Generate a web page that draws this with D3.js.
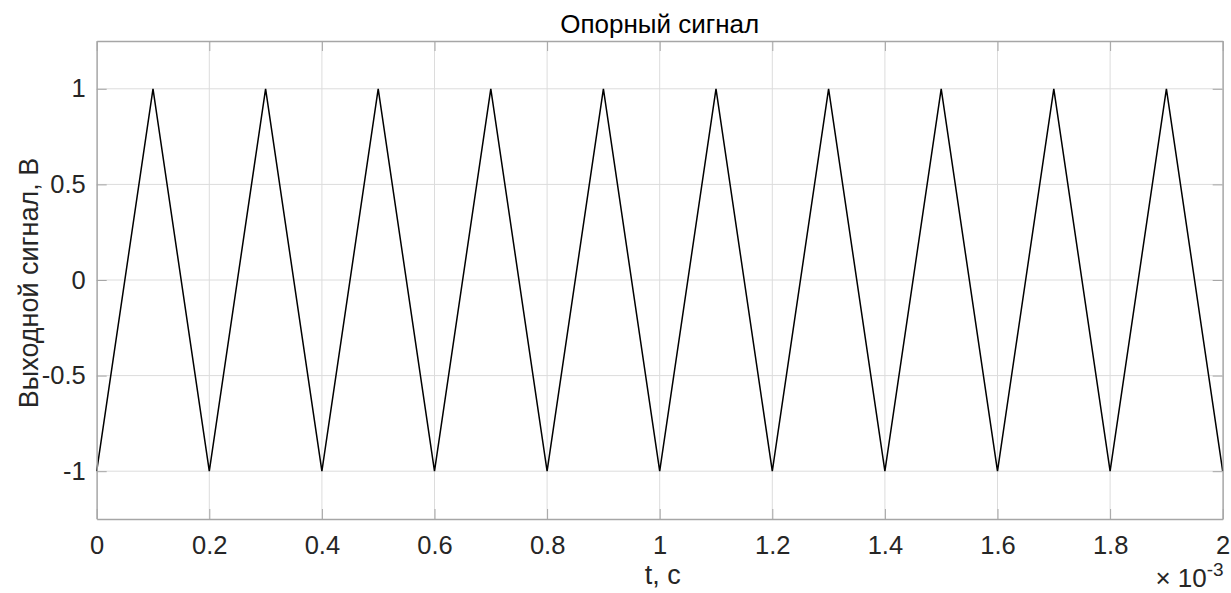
<!DOCTYPE html>
<html>
<head>
<meta charset="utf-8">
<script src="https://cdn.jsdelivr.net/npm/d3@7"></script>
<style>
  body { margin: 0; background: #fff; }
  text { font-family: "Liberation Sans", Arial, sans-serif; }
</style>
</head>
<body>
<div id="vizHolder"></div>
<script>
// vertices of the reference triangle wave (time in units of 1e-3 s)
var tValues = [0, 0.1, 0.2, 0.3, 0.4, 0.5, 0.6, 0.7, 0.8, 0.9, 1.0,
               1.1, 1.2, 1.3, 1.4, 1.5, 1.6, 1.7, 1.8, 1.9, 2.0],
    vValues = [-1, 1, -1, 1, -1, 1, -1, 1, -1, 1, -1,
               1, -1, 1, -1, 1, -1, 1, -1, 1, -1],
    xTicks = [0, 0.2, 0.4, 0.6, 0.8, 1, 1.2, 1.4, 1.6, 1.8, 2],
    yTicks = [-1, -0.5, 0, 0.5, 1];

var width = 1231, height = 593,
    margin = {top: 41, right: 8.3, bottom: 74, left: 96.7},
    tickLen = 10;

var svg = d3.select('#vizHolder').append('svg')
    .attr('width', width)
    .attr('height', height);

var x = d3.scaleLinear().domain([0, 2]).range([margin.left, width - margin.right]),
    y = d3.scaleLinear().domain([-1.25, 1.25]).range([height - margin.bottom, margin.top]);

var plot = svg.append('g');

// grid
plot.selectAll('line.xgrid').data(xTicks).enter().append('line')
    .attr('x1', function(d){ return x(d); }).attr('x2', function(d){ return x(d); })
    .attr('y1', y(1.25)).attr('y2', y(-1.25))
    .attr('stroke', '#dcdcdc').attr('stroke-width', 1);

plot.selectAll('line.ygrid').data(yTicks).enter().append('line')
    .attr('y1', function(d){ return y(d); }).attr('y2', function(d){ return y(d); })
    .attr('x1', x(0)).attr('x2', x(2))
    .attr('stroke', '#dcdcdc').attr('stroke-width', 1);

// signal
var line = d3.line()
    .x(function(d, i){ return x(tValues[i]); })
    .y(function(d){ return y(d); });

plot.append('path')
    .datum(vValues)
    .attr('d', line)
    .attr('fill', 'none')
    .attr('stroke', '#000')
    .attr('stroke-width', 1.5)
    .attr('stroke-linejoin', 'miter');

// axes (MATLAB box with inward ticks)
var axColor = '#a6a6a6',
    noLabel = function(){ return ''; };
var bottomAxis = d3.axisBottom(x).tickValues(xTicks).tickSizeInner(-tickLen).tickSizeOuter(0).tickPadding(17)
    .tickFormat(function(d){ return String(+d.toFixed(1)); });
var topAxis = d3.axisTop(x).tickValues(xTicks).tickSizeInner(-tickLen).tickSizeOuter(0).tickFormat(noLabel);
var leftAxis = d3.axisLeft(y).tickValues(yTicks).tickSizeInner(-tickLen).tickSizeOuter(0).tickPadding(11)
    .tickFormat(function(d){ return String(d); });
var rightAxis = d3.axisRight(y).tickValues(yTicks).tickSizeInner(-tickLen).tickSizeOuter(0).tickFormat(noLabel);

function styleAxis(g){
  g.selectAll('path').attr('stroke', axColor).attr('stroke-width', 1.3);
  g.selectAll('line').attr('stroke', axColor).attr('stroke-width', 1);
  g.selectAll('text').attr('fill', '#262626').style('font-size', '25.5px')
    .style('font-family', '"Liberation Sans", Arial, sans-serif');
}

svg.append('g').attr('transform', 'translate(0,' + y(-1.25) + ')').call(bottomAxis).call(styleAxis);
svg.append('g').attr('transform', 'translate(0,' + y(1.25) + ')').call(topAxis).call(styleAxis);
svg.append('g').attr('transform', 'translate(' + x(0) + ',0)').call(leftAxis).call(styleAxis);
svg.append('g').attr('transform', 'translate(' + x(2) + ',0)').call(rightAxis).call(styleAxis);

// title & labels
svg.append('text')
    .attr('x', (x(0) + x(2)) / 2).attr('y', 33)
    .attr('text-anchor', 'middle')
    .attr('fill', '#000')
    .style('font-size', '26px')
    .text('Опорный сигнал');

svg.append('text')
    .attr('x', (x(0) + x(2)) / 2 + 3).attr('y', 584)
    .attr('text-anchor', 'middle')
    .attr('fill', '#262626')
    .style('font-size', '27px')
    .text('t, c');

svg.append('text')
    .attr('transform', 'translate(38,' + ((y(1.25) + y(-1.25)) / 2 + 3) + ') rotate(-90)')
    .attr('text-anchor', 'middle')
    .attr('fill', '#262626')
    .style('font-size', '27px')
    .text('Выходной сигнал, В');

var exp = svg.append('text')
    .attr('x', x(2) + 1).attr('y', 587)
    .attr('text-anchor', 'end')
    .attr('fill', '#262626')
    .style('font-size', '26px');
exp.append('tspan').text('× 10');
exp.append('tspan').attr('dy', -11).style('font-size', '19px').text('-3');
</script>
</body>
</html>
